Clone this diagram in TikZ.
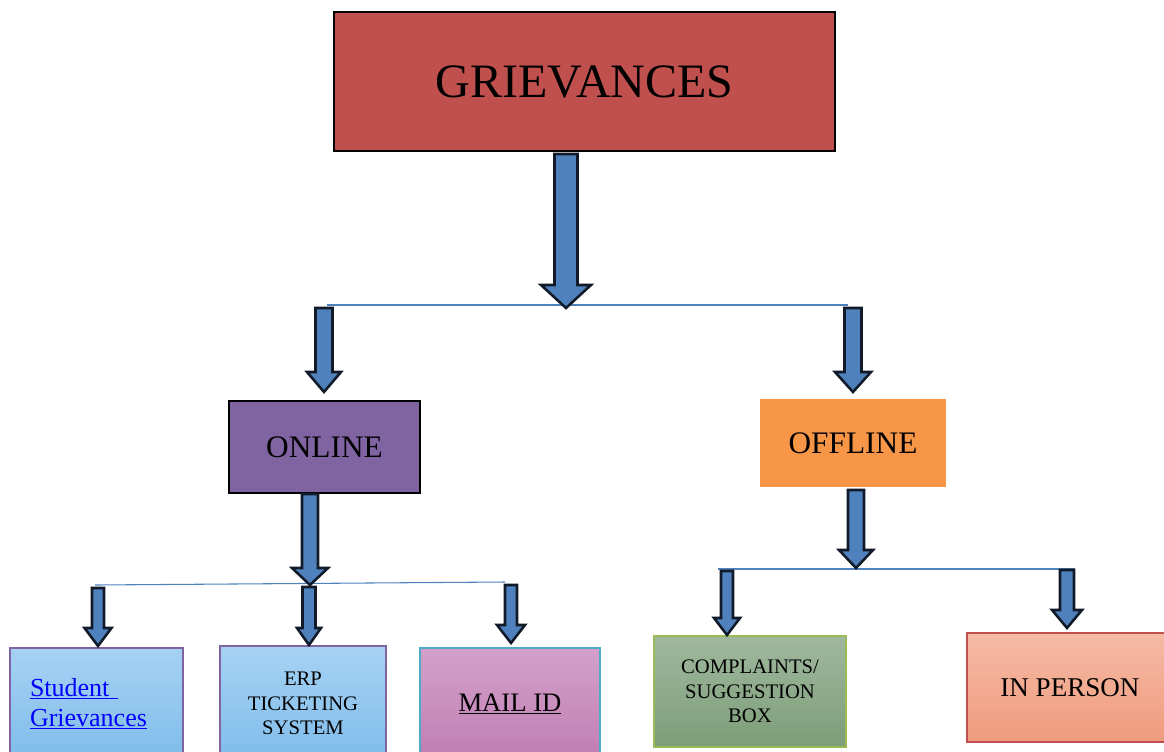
\documentclass[tikz,border=0pt]{standalone}
\usepackage{fontspec}
\setmainfont{Liberation Serif}
\newdimen\pxu \pxu=0.75pt
\definecolor{grievred}{HTML}{C0504D}
\definecolor{onlinepurple}{HTML}{8064A2}
\definecolor{offlineorange}{HTML}{F79646}
\definecolor{arrowblue}{HTML}{4F81BD}
\definecolor{arrowline}{HTML}{111A28}
\definecolor{lineblue}{HTML}{4F81BD}
\definecolor{lbtop}{HTML}{A6D2F4}
\definecolor{lbbot}{HTML}{7FBCEA}
\definecolor{pktop}{HTML}{D3A1CB}
\definecolor{pkbot}{HTML}{C07DB2}
\definecolor{grtop}{HTML}{A0B89E}
\definecolor{grbot}{HTML}{7C9D78}
\definecolor{satop}{HTML}{F5BAA5}
\definecolor{sabot}{HTML}{F09B7E}
\definecolor{mailborder}{HTML}{4BACC6}
\definecolor{greenborder}{HTML}{9BBB59}
\definecolor{linkblue}{HTML}{0000FF}
\newcommand\barrow[6]{% cx, top, neck, tip, half shaft, half head
  \draw[blockarrow] (#1-#5,#2) -- (#1+#5,#2) -- (#1+#5,#3) -- (#1+#6,#3) -- (#1,#4)
    -- (#1-#6,#3) -- (#1-#5,#3) -- cycle;}
\tikzset{
  blockarrow/.style={fill=arrowblue, draw=arrowline, line width=1.9pt, line join=miter},
  hline/.style={draw=lineblue, line width=0.8pt},
  box/.style={rectangle, inner sep=0pt, align=center},
}
\begin{document}
\begin{tikzpicture}[x=0.75pt,y=-0.75pt]
\useasboundingbox (0,0) rectangle (1164,751);

% top box
\node[box, draw=black, line width=1.5pt, fill=grievred,
  minimum width=501\pxu, minimum height=139\pxu,
  font={\fontsize{36}{40}\selectfont}] (griev) at (584.5,81.5)
  {\raisebox{-4\pxu}{GRIEVANCES}};

% level 2
\node[box, draw=black, line width=1.5pt, fill=onlinepurple,
  minimum width=191\pxu, minimum height=92\pxu,
  font={\fontsize{23.5}{28}\selectfont}] (online) at (324.5,447)
  {ONLINE};
\node[box, fill=offlineorange,
  minimum width=186\pxu, minimum height=88\pxu,
  font={\fontsize{23.5}{28}\selectfont}] (offline) at (853,443)
  {OFFLINE};

% level 3
\node[box, shade, top color=lbtop, bottom color=lbbot, draw=onlinepurple, line width=0.8pt,
  minimum width=173\pxu, minimum height=112\pxu, text width=133\pxu, align=left,
  font={\fontsize{19.5}{22.5}\selectfont}, text=linkblue] (student) at (96.5,704)
  {\underline{Student\ }\\\underline{Grievances}};
\node[box, shade, top color=lbtop, bottom color=lbbot, draw=onlinepurple, line width=0.8pt,
  minimum width=166\pxu, minimum height=115\pxu,
  font={\fontsize{15.5}{18.4}\selectfont}] (erp) at (303,703.5)
  {ERP\\TICKETING\\SYSTEM};
\node[box, shade, top color=pktop, bottom color=pkbot, draw=mailborder, line width=0.8pt,
  minimum width=180\pxu, minimum height=112\pxu,
  font={\fontsize{20}{24}\selectfont}] (mail) at (510,704)
  {\underline{MAIL ID}};
\node[box, shade, top color=grtop, bottom color=grbot, draw=greenborder, line width=1pt,
  minimum width=192\pxu, minimum height=111\pxu,
  font={\fontsize{15.5}{18.4}\selectfont}] (complaints) at (750,691.5)
  {COMPLAINTS/\\SUGGESTION\\BOX};
\node[box, shade, top color=satop, bottom color=sabot, draw=grievred, line width=0.8pt,
  minimum width=208\pxu, minimum height=109\pxu,
  font={\fontsize{20.3}{24}\selectfont}] (inperson) at (1071,687.5)
  {\hspace*{-2\pxu}IN PERSON};

% horizontal lines
\coordinate (l1a) at (327,305); \coordinate (l1b) at (848,305);
\coordinate (l2a) at (95,585);  \coordinate (l2b) at (505,582);
\coordinate (l3a) at (718,569); \coordinate (l3b) at (1075,569);
\draw[hline] (l1a) -- (l1b);
\draw[hline] (l2a) -- (l2b);
\draw[hline] (l3a) -- (l3b);

% block arrows
\barrow{566}{154}{285}{308}{11.5}{25}
\barrow{324}{308}{372}{392}{8.5}{17}
\barrow{853}{308}{372}{392}{8.5}{18}
\barrow{310}{494}{568}{585}{8}{18}
\barrow{98}{588}{628}{646}{6}{13.5}
\barrow{309}{587}{628}{645}{6.5}{12}
\barrow{511}{585}{625}{643}{6}{14}
\barrow{856}{490}{550}{568}{8}{17}
\barrow{727}{571}{618}{635}{6}{13}
\barrow{1067}{570}{610}{628}{7}{15}
\end{tikzpicture}
\end{document}
